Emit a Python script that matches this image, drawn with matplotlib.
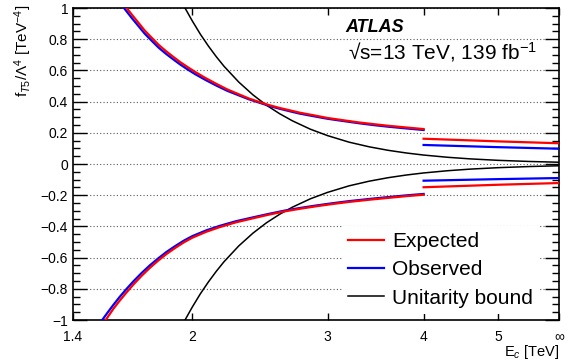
import numpy as np
import matplotlib.pyplot as plt
from matplotlib.ticker import MultipleLocator, NullLocator

plt.rcParams['font.family'] = ['Liberation Sans', 'DejaVu Sans']
plt.rcParams['mathtext.fontset'] = 'custom'
plt.rcParams['mathtext.rm'] = 'Liberation Sans'
plt.rcParams['mathtext.it'] = 'Liberation Sans:italic'
plt.rcParams['mathtext.bf'] = 'Liberation Sans:bold'

# limits, E_c in TeV (right edge = no cut, labelled infinity)
exp_up_E = [1.644, 1.67, 1.70, 1.735, 1.777, 1.81, 1.85, 1.89, 1.93, 1.975, 2.02, 2.08, 2.15, 2.22, 2.3,
            2.37, 2.45, 2.52, 2.6, 2.68, 2.76, 2.88, 3.0, 3.15, 3.3, 3.45, 3.6, 3.8, 4.0]
exp_up = [1.0, 0.957, 0.91, 0.856, 0.803, 0.763, 0.723, 0.687, 0.653, 0.62, 0.589, 0.552, 0.514, 0.479, 0.447,
          0.42, 0.396, 0.377, 0.359, 0.344, 0.329, 0.312, 0.295, 0.28, 0.266, 0.255, 0.245, 0.234, 0.224]
obs_up_E = [1.631, 1.644, 1.67, 1.70, 1.735, 1.777, 1.81, 1.85, 1.89, 1.93, 1.975, 2.02, 2.08, 2.15, 2.22, 2.3,
            2.37, 2.45, 2.52, 2.6, 2.68, 2.76, 2.88, 3.0, 3.15, 3.3, 3.45, 3.6, 3.8, 4.0]
obs_up = [1.0, 0.978, 0.935, 0.889, 0.836, 0.784, 0.745, 0.706, 0.671, 0.638, 0.605, 0.575, 0.54, 0.503, 0.47, 0.44,
          0.415, 0.392, 0.372, 0.354, 0.338, 0.323, 0.306, 0.29, 0.275, 0.261, 0.249, 0.239, 0.228, 0.218]

exp_lo_E = [1.544, 1.58, 1.61, 1.644, 1.68, 1.72, 1.762, 1.807, 1.852, 1.9, 1.95, 2.0, 2.085, 2.174, 2.28,
            2.4, 2.52, 2.643, 2.77, 2.9, 3.05, 3.2, 3.4, 3.6, 3.8, 4.0]
exp_lo = [-1.0, -0.928, -0.876, -0.822, -0.769, -0.716, -0.666, -0.619, -0.577, -0.539, -0.503, -0.473, -0.435,
          -0.404, -0.374, -0.348, -0.324, -0.303, -0.286, -0.271, -0.256, -0.243, -0.229, -0.217, -0.206, -0.197]
obs_lo_E = [1.528, 1.553, 1.58, 1.61, 1.644, 1.68, 1.72, 1.762, 1.807, 1.852, 1.9, 1.95, 2.0, 2.085, 2.174, 2.28,
            2.4, 2.52, 2.643, 2.77, 2.9, 3.05, 3.2, 3.4, 3.6, 3.8, 4.0]
obs_lo = [-1.0, -0.952, -0.903, -0.852, -0.80, -0.749, -0.698, -0.65, -0.605, -0.564, -0.527, -0.492, -0.463,
          -0.426, -0.396, -0.367, -0.342, -0.319, -0.298, -0.281, -0.266, -0.251, -0.238, -0.224, -0.212,
          -0.201, -0.192]

# second part, from 4 TeV to no cut
tail_E = [4.0, 5.0, 6.0]
exp_tail_up = [0.162, 0.145, 0.133]
obs_tail_up = [0.122, 0.108, 0.098]
obs_tail_lo = [-0.107, -0.097, -0.09]
exp_tail_lo = [-0.149, -0.133, -0.122]

# unitarity bound
ub_E = [1.958, 2.0, 2.05, 2.1, 2.15, 2.2, 2.3, 2.4, 2.5, 2.6, 2.7, 2.85, 3.0, 3.2, 3.4, 3.6, 3.8, 4.0,
        4.3, 4.6, 5.0, 5.5, 6.0]
ub_up = [1.0, 0.919, 0.832, 0.756, 0.688, 0.627, 0.525, 0.443, 0.376, 0.322, 0.277, 0.223, 0.182, 0.140,
         0.110, 0.0875, 0.0705, 0.0574, 0.043, 0.0328, 0.0235, 0.0161, 0.0113]
ub_lo = [-v for v in ub_up]

x_ticks = [1.4, 2, 3, 4, 5, 6]
x_tick_labels = ['1.4', '2', '3', '4', '5', '∞']
y_ticks = [-1, -0.8, -0.6, -0.4, -0.2, 0, 0.2, 0.4, 0.6, 0.8, 1]
y_tick_labels = ['−1', '−0.8', '−0.6', '−0.4', '−0.2', '0', '0.2', '0.4', '0.6', '0.8', '1']

fig = plt.figure(figsize=(5.68, 3.61), dpi=100)
ax = fig.add_axes([73/568, 1-320/361, 486/568, 312/361])
ax.set_xscale('log')

ax.grid(axis='y', which='major', color='0.35', lw=0.8, ls=(0, (1, 2)), zorder=1)

red = '#ff0000'
blue = '#0000ff'
ax.plot(ub_E, ub_up, color='k', lw=1.1, zorder=3)
ax.plot(ub_E, ub_lo, color='k', lw=1.1, zorder=3)
ax.plot(obs_up_E, obs_up, color=blue, lw=1.6, zorder=3)
ax.plot(obs_lo_E, obs_lo, color=blue, lw=1.6, zorder=3)
ax.plot(tail_E, obs_tail_up, color=blue, lw=1.6, zorder=3)
ax.plot(tail_E, obs_tail_lo, color=blue, lw=1.6, zorder=3)
ax.plot(exp_up_E, exp_up, color=red, lw=1.6, zorder=4)
ax.plot(exp_lo_E, exp_lo, color=red, lw=1.6, zorder=4)
ax.plot(tail_E, exp_tail_up, color=red, lw=1.6, zorder=4)
ax.plot(tail_E, exp_tail_lo, color=red, lw=1.6, zorder=4)

ax.set_xlim(1.4, 6)
ax.set_ylim(-1, 1)
ax.set_xticks(x_ticks, x_tick_labels)
ax.xaxis.set_minor_locator(NullLocator())
ax.set_yticks(y_ticks, y_tick_labels)
ax.yaxis.set_minor_locator(MultipleLocator(0.05))
ax.tick_params(axis='x', which='major', direction='in', length=5, width=1, top=True, pad=7, labelsize=10)
ax.tick_params(axis='y', which='major', direction='in', length=10, width=1, right=True, pad=3.5, labelsize=10)
ax.tick_params(axis='y', which='minor', direction='in', length=5, width=1, right=True)
for s in ax.spines.values():
    s.set_linewidth(1.2)

ax.set_ylabel(r'f$_{T5}$/Λ$^{4}$ [TeV$^{-4}$]', loc='top', fontsize=11)
ax.yaxis.set_label_coords(-0.08, 1.01)
ax.set_xlabel(r'E$_{c}$ [TeV]', loc='right', fontsize=10.5)
ax.xaxis.set_label_coords(1.0, -0.074)

ax.text(0.56, 0.936, 'ATLAS', transform=ax.transAxes, fontsize=13, fontweight='bold',
        fontstyle='italic', va='center')
ax.text(0.566, 0.859, '√s=13 TeV, 139 fb$^{-1}$', transform=ax.transAxes, fontsize=15, va='center')

h1, = ax.plot([], [], color=red, lw=1.6)
h2, = ax.plot([], [], color=blue, lw=1.6)
h3, = ax.plot([], [], color='k', lw=1.1)
leg = ax.legend([h1, h2, h3], ['Expected', 'Observed', 'Unitarity bound'], loc='upper left',
                bbox_to_anchor=((342-73)/486, (320-226)/312), borderaxespad=0, borderpad=0.3,
                fontsize=15, handlelength=1.7, handletextpad=0.4, labelspacing=0.44,
                frameon=True, fancybox=False, framealpha=1, facecolor='white', edgecolor='none')
leg.set_zorder(6)

plt.savefig('out.png', dpi=100)
